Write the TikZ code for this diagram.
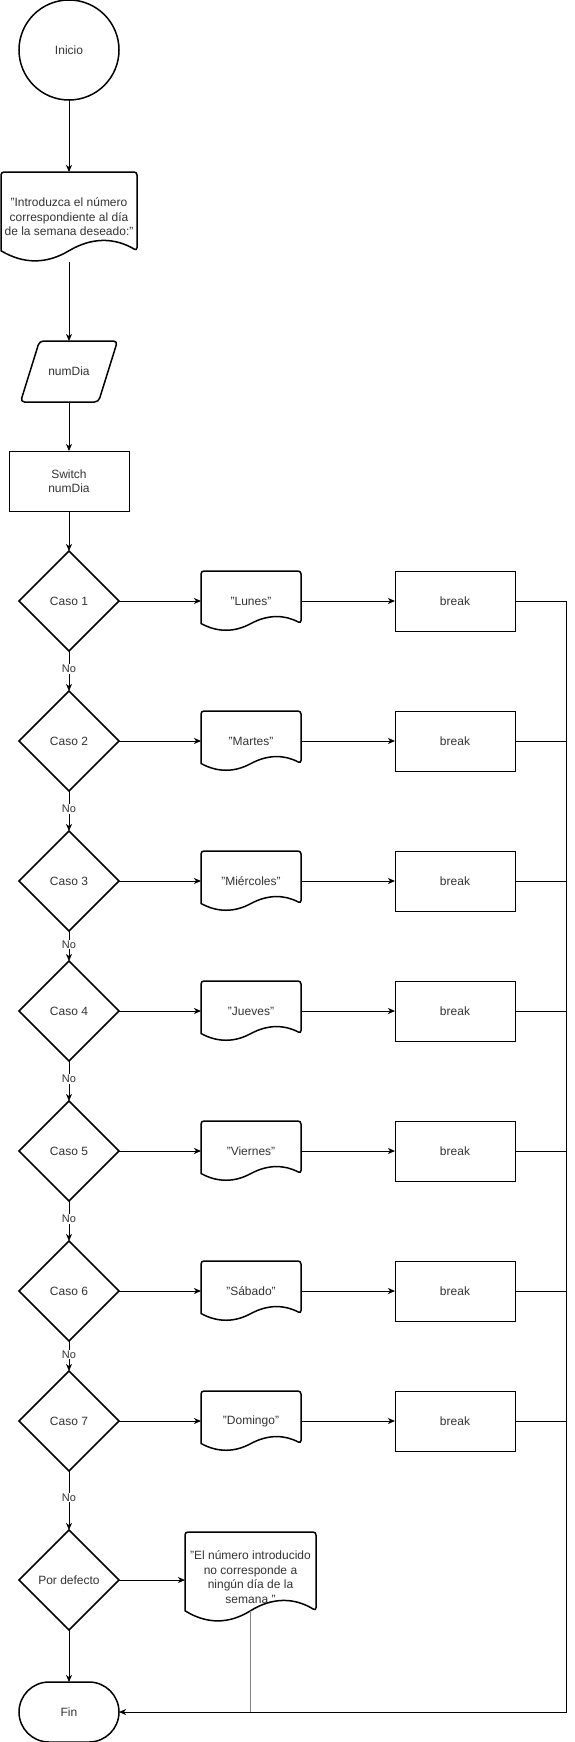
\documentclass[tikz,border=0pt]{standalone}
\usepackage{fontspec}
\setmainfont{Liberation Sans}
\usetikzlibrary{shapes.geometric,arrows.meta,calc}
\definecolor{txt}{HTML}{333333}
% document symbol (wavy bottom) drawn round an invisible node
\newcommand{\docshape}[1]{%
  \draw[line width=1.5pt] let \p1=(#1.south west), \p2=(#1.north east),
    \n1={\x2-\x1}, \n2={0.25*(\y2-\y1)} in
    (\x1,\y1+0.5*\n2) [rounded corners=3pt] -- (\x1,\y2) -- (\x2,\y2) -- (\x2,\y1+0.5*\n2) [sharp corners]
    .. controls (\x1+0.8333*\n1,\y1+1.1*\n2) and (\x1+0.6667*\n1,\y1+1.1*\n2) .. (\x1+0.5*\n1,\y1+0.5*\n2)
    .. controls (\x1+0.3333*\n1,\y1-0.1*\n2) and (\x1+0.1667*\n1,\y1-0.1*\n2) .. (\x1,\y1+0.5*\n2) -- cycle;}
\begin{document}
\begin{tikzpicture}[x=1pt,y=-1pt,
  every node/.style={font=\fontsize{12}{14.5}\selectfont,text=txt,inner sep=0pt,outer sep=0pt},
  thickline/.style={draw,line width=1.5pt},
  docbox/.style={minimum width=100pt,minimum height=60pt,align=center},
  procbox/.style={draw,line width=1pt,minimum width=120pt,minimum height=60pt,align=center},
  decision/.style={thickline,diamond,minimum width=100pt,minimum height=100pt},
  arr/.style={line width=1pt,-{Stealth[length=7pt,width=6pt,inset=2pt]}},
  link/.style={line width=1pt},
  lbl/.style={fill=white,font=\fontsize{11}{13}\selectfont,inner sep=1pt,pos=.45}]
 \useasboundingbox (0,0) rectangle (574,1742);
 % main column
 \node[thickline,circle,minimum size=100pt] (ini) at (69,50) {Inicio};
 \node[docbox,minimum width=136pt,minimum height=90pt] (intro) at (69,217) {"Introduzca el número\\correspondiente al día\\de la semana deseado:"};
 \docshape{intro}
 \node[minimum width=97pt,minimum height=61pt] (num) at (69,371.5) {numDia};
 \draw[line width=1.5pt,rounded corners=4pt] (num.south west) -- ($(num.north west)+(19,0)$) -- (num.north east) -- ($(num.south east)+(-19,0)$) -- cycle;
 \node[procbox] (sw) at (69,481) {Switch\\numDia};
 % cases
 \node[decision] (c1) at (69,601) {Caso 1};
 \node[docbox] (d1) at (251,601) {"Lunes"};
 \node[procbox] (b1) at (455,601) {break};
 \node[decision] (c2) at (69,741) {Caso 2};
 \node[docbox] (d2) at (251,741) {"Martes"};
 \node[procbox] (b2) at (455,741) {break};
 \node[decision] (c3) at (69,881) {Caso 3};
 \node[docbox] (d3) at (251,881) {"Miércoles"};
 \node[procbox] (b3) at (455,881) {break};
 \node[decision] (c4) at (69,1011) {Caso 4};
 \node[docbox] (d4) at (251,1011) {"Jueves"};
 \node[procbox] (b4) at (455,1011) {break};
 \node[decision] (c5) at (69,1151) {Caso 5};
 \node[docbox] (d5) at (251,1151) {"Viernes"};
 \node[procbox] (b5) at (455,1151) {break};
 \node[decision] (c6) at (69,1291) {Caso 6};
 \node[docbox] (d6) at (251,1291) {"Sábado"};
 \node[procbox] (b6) at (455,1291) {break};
 \node[decision] (c7) at (69,1421) {Caso 7};
 \node[docbox] (d7) at (251,1421) {"Domingo"};
 \node[procbox] (b7) at (455,1421) {break};
 \docshape{d1} \docshape{d2} \docshape{d3} \docshape{d4}
 \docshape{d5} \docshape{d6} \docshape{d7}
 % default and end
 \node[decision] (cdef) at (69,1580) {Por defecto};
 \node[docbox,minimum width=131pt,minimum height=90pt] (ddef) at (250.5,1577) {"El número introducido\\no corresponde a\\ningún día de la\\semana."};
 \docshape{ddef}
 \node[thickline,rounded corners=30pt,minimum width=100pt,minimum height=60pt] (fin) at (69,1712) {Fin};
 \coordinate (rt) at (566,601);
 % connectors
 \draw[arr] (ini) -- (intro);
 \draw[arr] (intro) -- (num);
 \draw[arr] (num) -- (sw);
 \draw[arr] (sw) -- (c1);
 \draw[arr] (c1) -- node[lbl]{No} (c2);
 \draw[arr] (c2) -- node[lbl]{No} (c3);
 \draw[arr] (c3) -- node[lbl]{No} (c4);
 \draw[arr] (c4) -- node[lbl]{No} (c5);
 \draw[arr] (c5) -- node[lbl]{No} (c6);
 \draw[arr] (c6) -- node[lbl]{No} (c7);
 \draw[arr] (c7) -- node[lbl]{No} (cdef);
 \draw[arr] (c1) -- (d1);
 \draw[arr] (c2) -- (d2);
 \draw[arr] (c3) -- (d3);
 \draw[arr] (c4) -- (d4);
 \draw[arr] (c5) -- (d5);
 \draw[arr] (c6) -- (d6);
 \draw[arr] (c7) -- (d7);
 \draw[arr] (d1) -- (b1);
 \draw[arr] (d2) -- (b2);
 \draw[arr] (d3) -- (b3);
 \draw[arr] (d4) -- (b4);
 \draw[arr] (d5) -- (b5);
 \draw[arr] (d6) -- (b6);
 \draw[arr] (d7) -- (b7);
 \draw[link] (b1) -- (b1 -| rt);
 \draw[link] (b2) -- (b2 -| rt);
 \draw[link] (b3) -- (b3 -| rt);
 \draw[link] (b4) -- (b4 -| rt);
 \draw[link] (b5) -- (b5 -| rt);
 \draw[link] (b6) -- (b6 -| rt);
 \draw[link] (b7) -- (b7 -| rt);
 \draw[arr] (rt) |- (fin);
 \draw[arr] (cdef) -- (cdef -| ddef.west);
 \draw[arr] (cdef) -- (fin);
 \draw[link,draw=gray] ($(ddef.south)+(0,-11)$) -- (ddef.south |- fin);
\end{tikzpicture}
\end{document}
